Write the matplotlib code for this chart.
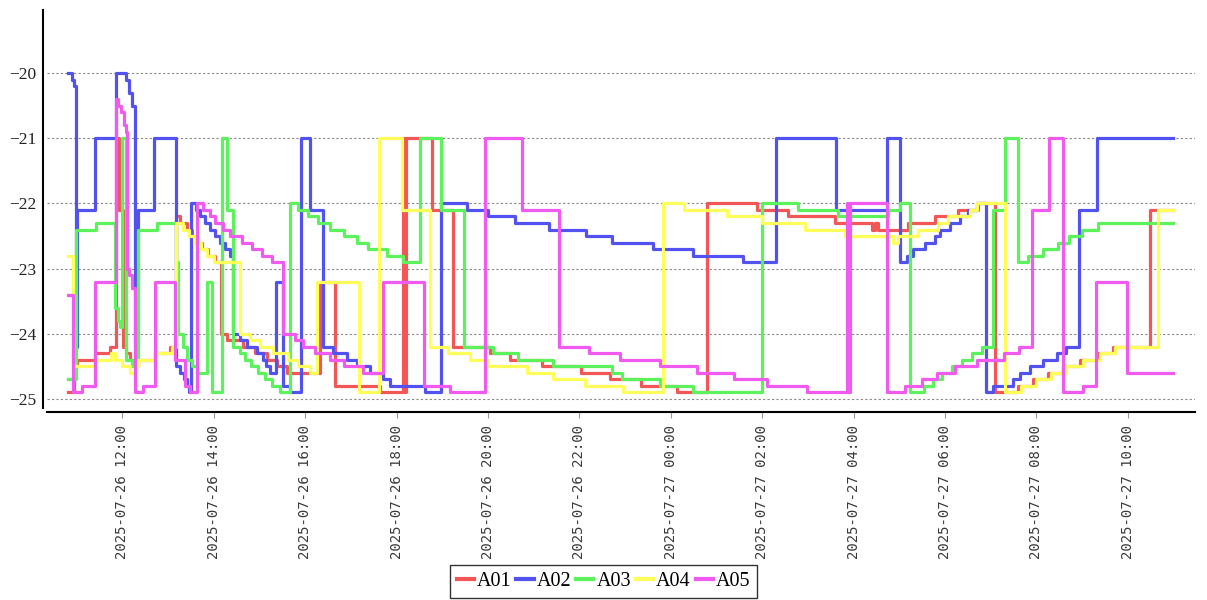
import pandas as pd
import matplotlib
matplotlib.use("Agg")
import matplotlib.pyplot as plt
import matplotlib.dates as mdates

plt.rcParams["font.family"] = ["Liberation Serif", "DejaVu Serif"]

# hours after 2025-07-26 00:00, value (step changes)
a01 = [(10.82, -24.9), (10.94, -24.5), (11.01, -24.4), (11.40, -24.3), (11.73, -24.2), (11.85, -21.0),
       (11.92, -22.1), (12.02, -24.2), (12.08, -24.3), (12.17, -24.4), (12.26, -24.5), (12.34, -24.4),
       (12.72, -24.3), (13.04, -24.2), (13.17, -22.2), (13.26, -22.3), (13.41, -22.4), (13.52, -22.5),
       (13.63, -22.6), (13.74, -22.7), (13.88, -22.8), (14.03, -22.9), (14.15, -24.0), (14.28, -24.1),
       (14.64, -24.2), (14.90, -24.3), (15.17, -24.4), (15.39, -24.5), (15.60, -24.6), (16.33, -23.2),
       (16.65, -24.8), (17.64, -24.9), (18.13, -21.0), (18.16, -24.9), (18.21, -21.0), (18.77, -22.1),
       (19.23, -24.2), (20.05, -24.3), (20.48, -24.4), (21.18, -24.5), (22.04, -24.6), (22.67, -24.7),
       (23.34, -24.8), (24.14, -24.9), (24.79, -22.0), (25.88, -22.1), (26.57, -22.2), (27.60, -22.3),
       (28.40, -22.4), (28.47, -22.3), (28.54, -22.4), (29.19, -22.3), (29.78, -22.2), (30.29, -22.1),
       (30.72, -22.0), (31.10, -24.9), (31.60, -24.8), (31.93, -24.7), (32.26, -24.6), (32.58, -24.5),
       (32.96, -24.4), (33.32, -24.3), (33.68, -24.2), (34.49, -22.1), (34.99, -22.1)]

a02 = [(10.82, -20.0), (10.90, -20.1), (10.94, -20.2), (10.98, -24.2), (11.01, -22.1), (11.39, -21.0),
       (11.86, -20.0), (12.08, -20.1), (12.15, -20.3), (12.21, -20.5), (12.27, -20.7), (12.28, -24.2),
       (12.34, -22.1), (12.70, -21.0), (13.17, -24.5), (13.26, -24.6), (13.35, -24.7), (13.42, -24.8),
       (13.46, -24.9), (13.50, -22.0), (13.61, -22.1), (13.70, -22.2), (13.81, -22.3), (13.92, -22.4),
       (14.03, -22.5), (14.14, -22.6), (14.25, -22.7), (14.36, -22.8), (14.43, -24.0), (14.58, -24.1),
       (14.72, -24.2), (14.94, -24.3), (15.08, -24.4), (15.15, -24.5), (15.23, -24.6), (15.36, -23.2),
       (15.52, -24.8), (15.67, -24.9), (15.90, -21.0), (16.11, -22.1), (16.39, -24.2), (16.61, -24.3),
       (16.92, -24.4), (17.14, -24.5), (17.42, -24.6), (17.70, -24.7), (17.86, -24.8), (18.62, -24.9),
       (18.97, -22.0), (19.54, -22.1), (20.00, -22.2), (20.59, -22.3), (21.34, -22.4), (22.15, -22.5),
       (22.71, -22.6), (23.61, -22.7), (24.49, -22.8), (25.58, -22.9), (26.30, -21.0), (27.61, -22.1),
       (28.73, -21.0), (29.02, -22.9), (29.16, -22.8), (29.30, -22.7), (29.56, -22.6), (29.78, -22.5),
       (29.89, -22.4), (30.11, -22.3), (30.33, -22.2), (30.51, -22.1), (30.70, -22.0), (30.90, -24.9),
       (31.05, -24.8), (31.49, -24.7), (31.64, -24.6), (31.86, -24.5), (32.14, -24.4), (32.45, -24.3),
       (32.65, -24.2), (32.94, -22.1), (33.32, -21.0), (34.99, -21.0)]

a03 = [(10.82, -24.7), (10.98, -22.4), (11.42, -22.3), (11.84, -23.6), (11.91, -23.8), (11.95, -23.9),
       (11.99, -21.0), (12.07, -24.4), (12.20, -24.5), (12.35, -22.4), (12.75, -22.3), (13.17, -22.9),
       (13.22, -24.0), (13.33, -24.2), (13.42, -24.4), (13.53, -24.5), (13.63, -24.6), (13.85, -23.2),
       (13.96, -24.9), (14.18, -21.0), (14.28, -22.1), (14.43, -24.2), (14.58, -24.3), (14.69, -24.4),
       (14.82, -24.5), (14.97, -24.6), (15.12, -24.7), (15.28, -24.8), (15.45, -24.9), (15.67, -22.0),
       (15.85, -22.1), (16.07, -22.2), (16.28, -22.3), (16.55, -22.4), (16.84, -22.5), (17.13, -22.6),
       (17.38, -22.7), (17.79, -22.8), (18.15, -22.9), (18.51, -21.0), (18.97, -22.1), (19.48, -24.2),
       (20.12, -24.3), (20.66, -24.4), (21.43, -24.5), (22.71, -24.6), (22.93, -24.7), (23.77, -24.8),
       (24.49, -24.9), (25.99, -22.0), (26.79, -22.1), (27.66, -22.2), (28.76, -22.1), (29.02, -22.0),
       (29.24, -24.9), (29.53, -24.8), (29.74, -24.7), (29.94, -24.6), (30.15, -24.5), (30.37, -24.4),
       (30.59, -24.3), (30.81, -24.2), (31.05, -22.1), (31.32, -21.0), (31.60, -22.9), (31.82, -22.8),
       (32.15, -22.7), (32.47, -22.6), (32.72, -22.5), (32.99, -22.4), (33.35, -22.3), (34.99, -22.3)]

a04 = [(10.82, -22.8), (10.92, -24.5), (11.40, -24.4), (11.75, -24.3), (11.84, -24.4), (11.99, -24.5),
       (12.17, -24.6), (12.28, -24.5), (12.34, -24.4), (12.72, -24.3), (13.09, -24.2), (13.18, -22.3),
       (13.33, -22.4), (13.46, -22.5), (13.59, -22.6), (13.72, -22.7), (13.85, -22.8), (14.01, -22.9),
       (14.58, -24.0), (14.79, -24.1), (15.01, -24.2), (15.30, -24.3), (15.63, -24.4), (15.85, -24.5),
       (16.11, -24.6), (16.26, -23.2), (17.18, -24.9), (17.62, -21.0), (18.11, -22.1), (18.73, -24.2),
       (19.13, -24.3), (19.61, -24.4), (20.01, -24.5), (20.85, -24.6), (21.43, -24.7), (22.12, -24.8),
       (22.96, -24.9), (23.83, -22.0), (24.28, -22.1), (25.23, -22.2), (25.99, -22.3), (26.94, -22.4),
       (27.81, -22.5), (28.87, -22.6), (28.97, -22.5), (29.41, -22.4), (29.85, -22.3), (30.07, -22.2),
       (30.55, -22.1), (30.70, -22.0), (31.32, -24.9), (31.67, -24.8), (31.99, -24.7), (32.32, -24.6),
       (32.65, -24.5), (33.02, -24.4), (33.39, -24.3), (33.73, -24.2), (34.66, -22.1), (34.99, -22.1)]

a05 = [(10.82, -23.4), (10.92, -24.9), (11.11, -24.8), (11.39, -23.2), (11.86, -20.4), (11.91, -20.5),
       (11.97, -20.6), (12.03, -20.8), (12.07, -20.9), (12.10, -23.0), (12.15, -23.1), (12.21, -23.3),
       (12.28, -24.9), (12.45, -24.8), (12.72, -23.2), (13.15, -24.4), (13.37, -24.8), (13.48, -24.9),
       (13.63, -22.0), (13.77, -22.1), (13.92, -22.2), (14.03, -22.3), (14.20, -22.4), (14.36, -22.5),
       (14.61, -22.6), (14.83, -22.7), (15.05, -22.8), (15.27, -22.9), (15.52, -24.0), (15.78, -24.1),
       (15.96, -24.2), (16.22, -24.3), (16.55, -24.4), (16.84, -24.5), (17.27, -24.6), (17.70, -23.2),
       (18.59, -24.8), (19.17, -24.9), (19.94, -21.0), (20.74, -22.1), (21.56, -24.2), (22.21, -24.3),
       (22.89, -24.4), (23.77, -24.5), (24.58, -24.6), (25.39, -24.7), (26.10, -24.8), (26.98, -24.9),
       (27.85, -22.0), (27.88, -24.9), (27.92, -22.0), (28.73, -24.9), (29.13, -24.8), (29.49, -24.7),
       (29.82, -24.6), (30.22, -24.5), (30.70, -24.4), (31.28, -24.3), (31.61, -24.2), (31.90, -22.1),
       (32.28, -21.0), (32.59, -24.9), (33.03, -24.8), (33.31, -23.2), (33.98, -24.6), (34.99, -24.6)]

names = ["A01", "A02", "A03", "A04", "A05"]
colors = ["#f25656", "#5252f0", "#5cf25c", "#ffff5a", "#f05af0"]
series = [a01, a02, a03, a04, a05]

base = pd.Timestamp("2025-07-26 00:00")

fig = plt.figure(figsize=(12.07, 6.0), dpi=100)
ax = fig.add_axes([47 / 1207, 1 - 408 / 600, (1195 - 47) / 1207, (408 - 10) / 600])

for name, col, data in zip(names, colors, series):
    t = [base + pd.Timedelta(hours=h) for h, v in data]
    v = [v for h, v in data]
    ax.plot(t, v, drawstyle="steps-post", color=col, linewidth=2.3, label=name)

ax.set_xlim(base + pd.Timedelta(hours=10.35), base + pd.Timedelta(hours=35.47))
ax.set_ylim(-25.14, -19.03)
ax.set_yticks([-25, -24, -23, -22, -21, -20])
ax.yaxis.set_major_formatter(plt.FuncFormatter(lambda y, p: "\u2212%d" % abs(round(y))))

ax.xaxis.set_major_locator(mdates.HourLocator(byhour=range(0, 24, 2)))
ax.xaxis.set_major_formatter(mdates.DateFormatter("%Y-%m-%d %H:%M"))
ax.tick_params(axis="x", labelrotation=90, labelsize=10.1, length=4, width=0.8,
               color="#999999", labelcolor="#3a3a3a", pad=5)
ax.tick_params(axis="y", length=0, pad=5, labelsize=12.5, labelcolor="#222222")

ax.yaxis.grid(True, linestyle=(0, (2, 2)), color="#888888", linewidth=0.8)
ax.set_axisbelow(True)

for s in ["top", "right"]:
    ax.spines[s].set_visible(False)
for s in ["left", "bottom"]:
    ax.spines[s].set_position(("outward", 3))
    ax.spines[s].set_linewidth(1.5)
    ax.spines[s].set_color("black")

leg = fig.legend(loc="lower center", bbox_to_anchor=(0.5, 0.003), ncol=5, frameon=True,
                 fancybox=False, edgecolor="black", prop={"family": "Liberation Serif", "size": 14.5},
                 handlelength=0.85, handletextpad=0.15, columnspacing=0.25, borderpad=0.35,
                 borderaxespad=0)
leg.get_frame().set_linewidth(1.0)
for line in leg.get_lines():
    line.set_linewidth(3)

fig.canvas.draw()
for lab in ax.get_xticklabels():
    lab.set_fontfamily("DejaVu Sans Mono")

fig.savefig("out.png", dpi=100)
